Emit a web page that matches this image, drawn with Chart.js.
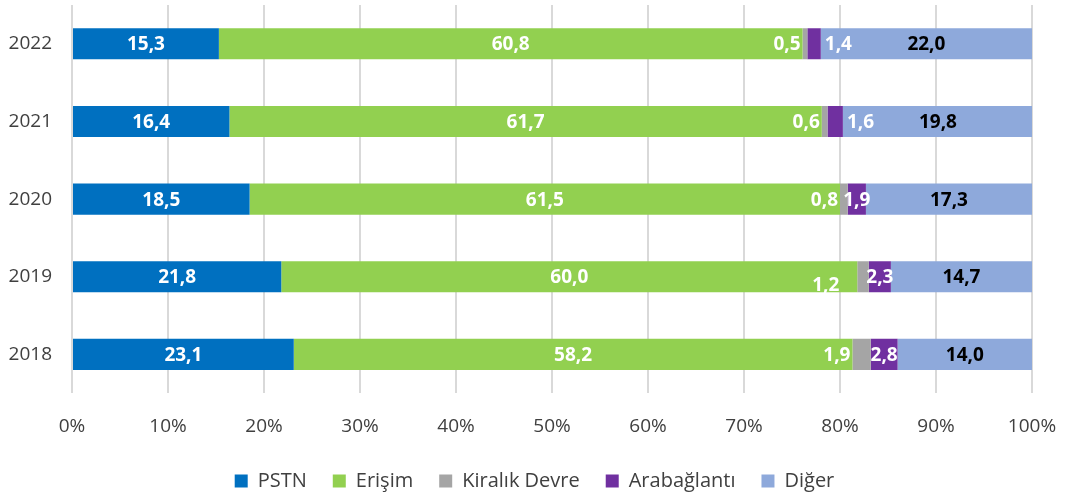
<!DOCTYPE html>
<html>
<head>
<meta charset="utf-8">
<script src="https://cdn.jsdelivr.net/npm/chart.js@4"></script>
<style>
  html, body { margin: 0; padding: 0; background: #fff; }
  #wrap { width: 1065px; height: 493px; position: relative; }
</style>
</head>
<body>
<div id="wrap"><canvas id="chart"></canvas></div>
<script>
const years = ['2022', '2021', '2020', '2019', '2018'];
const pstn = [15.3, 16.4, 18.5, 21.8, 23.1];
const erisim = [60.8, 61.7, 61.5, 60.0, 58.2];
const kiralik = [0.5, 0.6, 0.8, 1.2, 1.9];
const arabaglanti = [1.4, 1.6, 1.9, 2.3, 2.8];
const diger = [22.0, 19.8, 17.3, 14.7, 14.0];
const xTicks = [0, 10, 20, 30, 40, 50, 60, 70, 80, 90, 100];

const FONT = "'Open Sans', 'Noto Sans', sans-serif";

// draws the value labels, Excel style
const valueLabels = {
    id: 'valueLabels',
    afterLayout(chart) {
        // legend sits a bit right of centre in the original
        chart.legend.left += 14;
        chart.legend.right += 14;
    },
    afterDatasetsDraw(chart) {
        const ctx = chart.ctx;
        ctx.save();
        ctx.font = 'bold 19px ' + FONT;
        ctx.textBaseline = 'middle';
        chart.data.datasets.forEach((ds, di) => {
            const meta = chart.getDatasetMeta(di);
            meta.data.forEach((bar, i) => {
                const text = ds.data[i].toFixed(1).replace('.', ',');
                const start = bar.base, end = bar.x, w = end - start;
                ctx.fillStyle = ds.labelColor;
                let x = (start + end) / 2, y = bar.y + 1;
                ctx.textAlign = 'center';
                if (ds.label === 'Kiralık Devre') {
                    ctx.textAlign = 'right';
                    x = start - 2;
                    // 2019 label was nudged down-left in the source
                    if (i === 3) { y += 8; x -= 16; }
                } else if (ds.label === 'Arabağlantı' && w < 16) {
                    ctx.textAlign = 'left';
                    x = end + 4;
                }
                ctx.fillText(text, x, y);
            });
        });
        ctx.restore();
    }
};

new Chart(document.getElementById('chart'), {
    type: 'bar',
    data: {
        labels: years,
        datasets: [
            { label: 'PSTN', data: pstn, backgroundColor: '#0070C0', labelColor: '#ffffff' },
            { label: 'Erişim', data: erisim, backgroundColor: '#92D050', labelColor: '#ffffff' },
            { label: 'Kiralık Devre', data: kiralik, backgroundColor: '#A5A5A5', labelColor: '#ffffff' },
            { label: 'Arabağlantı', data: arabaglanti, backgroundColor: '#7030A0', labelColor: '#ffffff' },
            { label: 'Diğer', data: diger, backgroundColor: '#8EA9DB', labelColor: '#000000' }
        ]
    },
    options: {
        indexAxis: 'y',
        responsive: true,
        maintainAspectRatio: false,
        animation: false,
        datasets: { bar: { barPercentage: 0.4, categoryPercentage: 1 } },
        layout: { padding: { left: 9, right: 33, top: 5, bottom: -8 } },
        plugins: {
            tooltip: { enabled: false },
            legend: {
                position: 'bottom',
                labels: {
                    boxWidth: 13, boxHeight: 13, padding: 26,
                    color: '#404040',
                    font: { family: FONT, size: 20 }
                }
            }
        },
        scales: {
            x: {
                stacked: true,
                min: 0, max: 100,
                afterBuildTicks: axis => { axis.ticks = xTicks.map(v => ({ value: v })); },
                afterFit: axis => {
                    axis.paddingLeft = 0;
                    axis.paddingRight = 0;
                    axis.height -= 15;
                },
                ticks: {
                    color: '#404040',
                    font: { family: FONT, size: 19 },
                    padding: 22,
                    callback: v => v + '%'
                },
                grid: { color: '#d9d9d9', lineWidth: 2, drawTicks: false },
                border: { display: false }
            },
            y: {
                stacked: true,
                afterFit: axis => {
                    axis.paddingTop = 0;
                    axis.paddingBottom = 0;
                    axis.width = 63;
                },
                ticks: {
                    color: '#404040',
                    font: { family: FONT, size: 19 },
                    padding: 20
                },
                grid: { display: false, drawTicks: false },
                border: { display: false }
            }
        }
    },
    plugins: [valueLabels]
});
</script>
</body>
</html>
